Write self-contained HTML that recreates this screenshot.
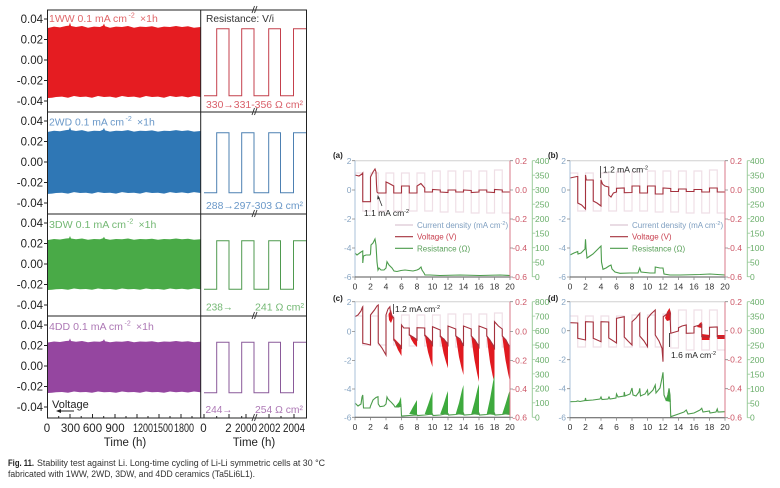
<!DOCTYPE html>
<html><head><meta charset="utf-8">
<style>
html,body{margin:0;padding:0;background:#fff;}
svg{display:block;}
text{font-family:"Liberation Sans","DejaVu Sans",sans-serif;}
</style></head><body>
<svg width="780" height="488" viewBox="0 0 780 488" xmlns="http://www.w3.org/2000/svg">
<rect width="780" height="488" fill="#fff"/>
<defs>
<path id="band" d="M48,-0.97 L54,-1.01 L60,-0.99 L66,-1.03 L69,-1.04 L70,-1.13 L71,-1.03 L76,-1.0 L82,-1.03 L88,-0.98 L94,-1.01 L100,-1.0 L103,-1.04 L104,-1.1 L105,-1.02 L110,-0.98 L116,-1.01 L122,-1.0 L128,-1.03 L134,-0.98 L140,-1.01 L146,-1.0 L152,-1.02 L158,-0.98 L164,-1.01 L170,-1.0 L176,-1.03 L182,-1.0 L188,-1.02 L194,-0.98 L200.5,-1.0 L200.5,1.0 L194,0.97 L188,1.01 L182,0.98 L176,1.0 L170,0.97 L164,1.02 L158,0.99 L152,1.0 L146,0.97 L140,1.02 L134,0.99 L128,1.0 L122,0.97 L116,1.02 L110,0.99 L104,1.0 L98,0.97 L92,1.02 L86,0.99 L80,1.0 L74,0.97 L68,1.02 L62,0.99 L56,1.0 L52,1.02 L48,1.03 Z"/>
</defs>

<!-- ========== LEFT BIG CHART ========== -->
<use href="#band" fill="#e51c21" transform="translate(0,62) scale(1,35)"/>
<use href="#band" fill="#2f77b5" transform="translate(0,162) scale(1,31)"/>
<use href="#band" fill="#49aa47" transform="translate(0,264.3) scale(1,25)"/>
<use href="#band" fill="#9546a0" transform="translate(0,367) scale(1,25.3)"/>

<g fill="none" stroke-width="1">
<path stroke="#c4404c" d="M204,95.7 H216.7 V28.7 H229 V95.7 H241.7 V28.7 H254 V95.7 H268.7 V28.7 H280.5 V95.7 H293.5 V28.7 H306"/>
<path stroke="#4d80b2" d="M204,192.7 H216.7 V132.7 H229 V192.7 H241.7 V132.7 H254 V192.7 H268.7 V132.7 H280.5 V192.7 H293.5 V132.7 H306"/>
<path stroke="#4f9a4f" d="M204,289.3 H216.7 V240.7 H229 V289.3 H241.7 V240.7 H254 V289.3 H268.7 V240.7 H280.5 V289.3 H293.5 V240.7 H306"/>
<path stroke="#8a5a9a" d="M204,392.7 H216.7 V342.3 H229 V392.7 H241.7 V342.3 H254 V392.7 H268.7 V342.3 H280.5 V392.7 H293.5 V342.3 H306"/>
</g>

<g stroke="#222" stroke-width="1" fill="none">
<rect x="47.5" y="10" width="259" height="408"/>
<line x1="200.7" y1="10" x2="200.7" y2="418"/>
<line x1="47.5" y1="112" x2="306.5" y2="112"/>
<line x1="47.5" y1="214" x2="306.5" y2="214"/>
<line x1="47.5" y1="316" x2="306.5" y2="316"/>
</g>
<g stroke="#333" stroke-width="0.9">
<line x1="252" y1="13" x2="254.5" y2="6"/><line x1="254.5" y1="13" x2="257" y2="6"/>
<line x1="252" y1="115" x2="254.5" y2="108"/><line x1="254.5" y1="115" x2="257" y2="108"/>
<line x1="252" y1="217" x2="254.5" y2="210"/><line x1="254.5" y1="217" x2="257" y2="210"/>
<line x1="252" y1="319" x2="254.5" y2="312"/><line x1="254.5" y1="319" x2="257" y2="312"/>
<line x1="252" y1="421" x2="254.5" y2="414"/><line x1="254.5" y1="421" x2="257" y2="414"/>
</g>

<g stroke="#222" stroke-width="1">
<line x1="44" y1="19" x2="47.5" y2="19"/><line x1="44" y1="39.5" x2="47.5" y2="39.5"/><line x1="44" y1="60" x2="47.5" y2="60"/><line x1="44" y1="80.5" x2="47.5" y2="80.5"/><line x1="44" y1="101" x2="47.5" y2="101"/>
<line x1="44" y1="121" x2="47.5" y2="121"/><line x1="44" y1="141.5" x2="47.5" y2="141.5"/><line x1="44" y1="162" x2="47.5" y2="162"/><line x1="44" y1="182.5" x2="47.5" y2="182.5"/><line x1="44" y1="203" x2="47.5" y2="203"/>
<line x1="44" y1="223" x2="47.5" y2="223"/><line x1="44" y1="243.5" x2="47.5" y2="243.5"/><line x1="44" y1="264" x2="47.5" y2="264"/><line x1="44" y1="284.5" x2="47.5" y2="284.5"/><line x1="44" y1="305" x2="47.5" y2="305"/>
<line x1="44" y1="325" x2="47.5" y2="325"/><line x1="44" y1="345.5" x2="47.5" y2="345.5"/><line x1="44" y1="366" x2="47.5" y2="366"/><line x1="44" y1="386.5" x2="47.5" y2="386.5"/><line x1="44" y1="407" x2="47.5" y2="407"/>
<line x1="47.5" y1="418" x2="47.5" y2="414"/><line x1="70" y1="418" x2="70" y2="414"/><line x1="92.5" y1="418" x2="92.5" y2="414"/><line x1="115" y1="418" x2="115" y2="414"/><line x1="137" y1="418" x2="137" y2="414"/><line x1="159" y1="418" x2="159" y2="414"/><line x1="181" y1="418" x2="181" y2="414"/>
<line x1="58.7" y1="418" x2="58.7" y2="416"/><line x1="81.2" y1="418" x2="81.2" y2="416"/><line x1="103.7" y1="418" x2="103.7" y2="416"/><line x1="126" y1="418" x2="126" y2="416"/><line x1="148" y1="418" x2="148" y2="416"/><line x1="170" y1="418" x2="170" y2="416"/><line x1="192" y1="418" x2="192" y2="416"/>
<line x1="204" y1="418" x2="204" y2="414"/><line x1="216.7" y1="418" x2="216.7" y2="416"/><line x1="229" y1="418" x2="229" y2="414"/><line x1="241.7" y1="418" x2="241.7" y2="416"/><line x1="246" y1="418" x2="246" y2="414"/><line x1="269" y1="418" x2="269" y2="414"/><line x1="294" y1="418" x2="294" y2="414"/><line x1="281" y1="418" x2="281" y2="416"/>
</g>

<g font-size="11.5" fill="#222" text-anchor="end">
<text x="43" y="23">0.04</text><text x="43" y="43.5">0.02</text><text x="43" y="64">0.00</text><text x="43" y="84.5">-0.02</text><text x="43" y="105">-0.04</text>
<text x="43" y="125">0.04</text><text x="43" y="145.5">0.02</text><text x="43" y="166">0.00</text><text x="43" y="186.5">-0.02</text><text x="43" y="207">-0.04</text>
<text x="43" y="227">0.04</text><text x="43" y="247.5">0.02</text><text x="43" y="268">0.00</text><text x="43" y="288.5">-0.02</text><text x="43" y="309">-0.04</text>
<text x="43" y="329">0.04</text><text x="43" y="349.5">0.02</text><text x="43" y="370">0.00</text><text x="43" y="390.5">-0.02</text><text x="43" y="411">-0.04</text>
</g>
<g font-size="11.5" fill="#222" text-anchor="middle">
<text x="47" y="432">0</text><text x="70.5" y="432">300</text><text x="92.5" y="432">600</text><text x="115" y="432">900</text>
<text x="143" y="432" textLength="20" lengthAdjust="spacingAndGlyphs">1200</text>
<text x="163" y="432" textLength="20" lengthAdjust="spacingAndGlyphs">1500</text>
<text x="184" y="432" textLength="20" lengthAdjust="spacingAndGlyphs">1800</text>
<text x="203.5" y="432">0</text><text x="228.5" y="432">2</text>
<text x="246" y="432" textLength="22" lengthAdjust="spacingAndGlyphs">2000</text>
<text x="269.5" y="432" textLength="22" lengthAdjust="spacingAndGlyphs">2002</text>
<text x="294" y="432" textLength="22" lengthAdjust="spacingAndGlyphs">2004</text>
<text x="125" y="446">Time (h)</text>
<text x="254" y="446">Time (h)</text>
</g>

<g font-size="10.5">
<text x="49" y="22" fill="#e0676a" textLength="78" lengthAdjust="spacingAndGlyphs">1WW 0.1 mA cm</text>
<text x="128.5" y="17.5" font-size="7" fill="#e0676a">-2</text>
<text x="140" y="22" fill="#e0676a">×1h</text>
<text x="49" y="125.5" fill="#6a98c8" textLength="75" lengthAdjust="spacingAndGlyphs">2WD 0.1 mA cm</text>
<text x="125.5" y="121" font-size="7" fill="#6a98c8">-2</text>
<text x="137" y="125.5" fill="#6a98c8">×1h</text>
<text x="49" y="228" fill="#74b874" textLength="77" lengthAdjust="spacingAndGlyphs">3DW 0.1 mA cm</text>
<text x="127" y="223.5" font-size="7" fill="#74b874">-2</text>
<text x="138.5" y="228" fill="#74b874">×1h</text>
<text x="49" y="330" fill="#ad78b5" textLength="74" lengthAdjust="spacingAndGlyphs">4DD 0.1 mA cm</text>
<text x="124.5" y="325.5" font-size="7" fill="#ad78b5">-2</text>
<text x="136" y="330" fill="#ad78b5">×1h</text>

<text x="206" y="22" fill="#333" textLength="68" lengthAdjust="spacingAndGlyphs">Resistance: V/i</text>
<text x="206" y="108" fill="#d9606a" textLength="97" lengthAdjust="spacingAndGlyphs">330→331-356 Ω cm²</text>
<text x="206" y="209" fill="#6a98c8" textLength="97" lengthAdjust="spacingAndGlyphs">288→297-303 Ω cm²</text>
<text x="206" y="310.5" fill="#74b874" textLength="27" lengthAdjust="spacingAndGlyphs">238→</text>
<text x="255" y="310.5" fill="#74b874" textLength="49" lengthAdjust="spacingAndGlyphs">241 Ω cm²</text>
<text x="205.5" y="413" fill="#ad78b5" textLength="27" lengthAdjust="spacingAndGlyphs">244→</text>
<text x="255" y="413" fill="#ad78b5" textLength="48" lengthAdjust="spacingAndGlyphs">254 Ω cm²</text>
<text x="52" y="408" fill="#222" font-size="11">Voltage</text>
</g>
<g stroke="#222" stroke-width="1" fill="#222">
<line x1="60" y1="411" x2="74" y2="411"/>
<path d="M56,411 L61,409 L61,413 Z" stroke="none"/>
</g>

<text x="8" y="466" font-family="Liberation Serif, serif" font-size="9" font-weight="bold" fill="#222" textLength="26" lengthAdjust="spacingAndGlyphs">Fig. 11.</text>
<text x="37" y="466" font-family="Liberation Serif, serif" font-size="9" fill="#333" textLength="288" lengthAdjust="spacingAndGlyphs">Stability test against Li. Long-time cycling of Li-Li symmetric cells at 30 °C</text>
<text x="8" y="477" font-family="Liberation Serif, serif" font-size="9" fill="#333" textLength="247" lengthAdjust="spacingAndGlyphs">fabricated with 1WW, 2WD, 3DW, and 4DD ceramics (Ta5Li6L1).</text>

<!-- ========== (a) ========== -->
<text x="333" y="158" font-size="8" font-weight="bold" fill="#222">(a)</text>
<path fill="none" stroke="#efdfe6" stroke-width="1.2" d="M355,173 H362.75 V211 H370.5 V173 H378.25 V211 H386 V173 H393.75 V211 H401.5 V173 H409.25 V211 H417 V173 H424.75 V211 H432.5 V171 H440.25 V212 H448 V171 H455.75 V212 H463.5 V171 H471.25 V213 H479 V171 H486.75 V213 H494.5 V170 H502.25 V213 H510"/>
<polyline fill="none" stroke="#a5323e" stroke-width="1.1" points="355,175 359,176 362,174 362.75,173 362.75,201.7 370.5,201.7 370.5,177 373,172 375,169 376,172 376.5,185 377,192 378,193 382,193 386,193 386,182 388.3,183 393.75,186 393.75,193 401.5,193 401.5,186 409.25,186 409.25,193 417,193 417,186 420.9,183.5 424.75,188 424.75,192 432.5,192 432.5,189.5 440.25,190 440.25,192 448,192.5 448,190 455.75,190 455.75,192 463.5,192 463.5,190 471.25,190.5 471.25,192.5 479,192 479,190 486.75,190 486.75,192 494.5,192.5 494.5,189.5 502.25,190 502.25,192 510,192"/>
<polyline fill="none" stroke="#4c9c4c" stroke-width="1.1" points="355,253 357,255 361,252 362.75,251 362.75,263 363.5,256 366,255 370,255 370.5,254 371,245 373,243 375,239 376,245 377,262 378,270 379,268 381,270 384,270 386,268 387,261.7 389,265 392,268 394,271 397,271.5 401,270.5 405,270 409,270.5 413,271 417,270 419,269 421,267 422,270 424,273 425,275 430,275 440,275.5 460,275 480,275.5 500,275 510,275.5"/>
<g stroke-width="1" fill="none">
<line x1="355" y1="160.7" x2="510" y2="160.7" stroke="#d0d0d0"/>
<line x1="355" y1="160.7" x2="355" y2="277" stroke="#a8c0d8"/>
<line x1="355" y1="277" x2="510" y2="277" stroke="#555"/>
<line x1="510" y1="160.7" x2="510" y2="277" stroke="#d87a88"/>
<line x1="532.3" y1="160.7" x2="532.3" y2="277" stroke="#9ccc9c"/>
</g>
<g font-size="8.5" fill="#86a4c2" text-anchor="end">
<text x="351.5" y="164">2</text><text x="351.5" y="193">0</text><text x="351.5" y="222">-2</text><text x="351.5" y="251">-4</text><text x="351.5" y="280">-6</text>
</g>
<g font-size="8.5" fill="#cc5565" text-anchor="end">
<text x="527" y="164">0.2</text><text x="527" y="193">0.0</text><text x="527" y="222">-0.2</text><text x="527" y="251">-0.4</text><text x="527" y="280">-0.6</text>
</g>
<g font-size="8.5" fill="#6aae6a">
<text x="535" y="164">400</text><text x="535" y="178.5">350</text><text x="535" y="193">300</text><text x="535" y="207.5">250</text><text x="535" y="222">200</text><text x="535" y="236.5">150</text><text x="535" y="251">100</text><text x="535" y="265.5">50</text><text x="535" y="280">0</text>
</g>
<g font-size="8.5" fill="#333" text-anchor="middle">
<text x="355" y="289.5">0</text><text x="370.5" y="289.5">2</text><text x="386" y="289.5">4</text><text x="401.5" y="289.5">6</text><text x="417" y="289.5">8</text><text x="432.5" y="289.5">10</text><text x="448" y="289.5">12</text><text x="463.5" y="289.5">14</text><text x="479" y="289.5">16</text><text x="494.5" y="289.5">18</text><text x="510" y="289.5">20</text>
</g>
<text x="364" y="216" font-size="8.5" fill="#222">1.1 mA cm<tspan dy="-3" font-size="5.5">-2</tspan></text>
<line x1="382" y1="206" x2="378.5" y2="197" stroke="#333" stroke-width="0.8"/>
<path d="M377.7,195 L377.2,199.5 L380,198.5 Z" fill="#333"/>
<line x1="395" y1="225" x2="413" y2="225" stroke="#dcc8d4" stroke-width="1.2"/>
<line x1="395" y1="236.7" x2="413" y2="236.7" stroke="#a5323e" stroke-width="1.2"/>
<line x1="395" y1="248.3" x2="413" y2="248.3" stroke="#4c9c4c" stroke-width="1.2"/>
<text x="417" y="228" font-size="8" fill="#7f9fc0">Current density (mA cm<tspan dy="-3" font-size="5.5">-2</tspan><tspan dy="3">)</tspan></text>
<text x="417" y="239.7" font-size="8" fill="#c84050">Voltage (V)</text>
<text x="417" y="251.3" font-size="8" fill="#5aa05a">Resistance (Ω)</text>

<!-- ========== (b) ========== -->
<text x="548" y="158" font-size="8" font-weight="bold" fill="#222">(b)</text>
<path fill="none" stroke="#efdfe6" stroke-width="1.2" d="M570,173 H577.75 V211 H585.5 V173 H593.25 V211 H601 V173 H608.75 V211 H616.5 V172 H624.25 V211 H632 V172 H639.75 V211 H647.5 V171 H655.25 V212 H663 V171 H670.75 V212 H678.5 V171 H686.25 V213 H694 V171 H701.75 V213 H709.5 V170 H717.25 V213 H725"/>
<polyline fill="none" stroke="#a5323e" stroke-width="1.1" points="570,178 577,176.5 577.75,176.5 577.75,203 581.6,205 585.5,209 585.5,175 586.3,180 593.25,180 593.25,201 597,203 601,206 601,180 602.5,184 604.9,186 608.75,187 608.75,195 611,197 613.4,193 616.5,192 616.5,188.3 624.25,188 624.25,192.7 632,192.5 632,186 639.75,186 639.75,193 647.5,193 647.5,186 655.25,186 655.25,194 663,194 663,188 670.75,188.5 670.75,191.5 678.5,191.5 678.5,189 686.25,189 686.25,191.5 694,191.5 694,189.5 701.75,189.5 701.75,192 709.5,192 709.5,188 717.25,188 717.25,192 725,192"/>
<polyline fill="none" stroke="#4c9c4c" stroke-width="1.1" points="570,255 574,253 577.75,251.5 578,254 581,253 585,249 585.5,239.3 586,248 587,258 590,256 593,254 597,250 600,247 601,246 601.5,262 603,269.3 606,268 609,266 611,265 612,269 615,272 620,273.3 630,273 638,273 639.75,268 641,272 650,273 655,273 655.25,267 660,268 663,268 664,274 670,275 680,275 700,274.5 710,274 725,275"/>
<g stroke-width="1" fill="none">
<line x1="570" y1="160.7" x2="725" y2="160.7" stroke="#d0d0d0"/>
<line x1="570" y1="160.7" x2="570" y2="277" stroke="#a8c0d8"/>
<line x1="570" y1="277" x2="725" y2="277" stroke="#555"/>
<line x1="725" y1="160.7" x2="725" y2="277" stroke="#d87a88"/>
<line x1="747.3" y1="160.7" x2="747.3" y2="277" stroke="#9ccc9c"/>
</g>
<g font-size="8.5" fill="#86a4c2" text-anchor="end">
<text x="566" y="164">2</text><text x="566" y="193">0</text><text x="566" y="222">-2</text><text x="566" y="251">-4</text><text x="566" y="280">-6</text>
</g>
<g font-size="8.5" fill="#cc5565" text-anchor="end">
<text x="742" y="164">0.2</text><text x="742" y="193">0.0</text><text x="742" y="222">-0.2</text><text x="742" y="251">-0.4</text><text x="742" y="280">-0.6</text>
</g>
<g font-size="8.5" fill="#6aae6a">
<text x="750" y="164">400</text><text x="750" y="178.5">350</text><text x="750" y="193">300</text><text x="750" y="207.5">250</text><text x="750" y="222">200</text><text x="750" y="236.5">150</text><text x="750" y="251">100</text><text x="750" y="265.5">50</text><text x="750" y="280">0</text>
</g>
<g font-size="8.5" fill="#333" text-anchor="middle">
<text x="570" y="289.5">0</text><text x="585.5" y="289.5">2</text><text x="601" y="289.5">4</text><text x="616.5" y="289.5">6</text><text x="632" y="289.5">8</text><text x="647.5" y="289.5">10</text><text x="663" y="289.5">12</text><text x="678.5" y="289.5">14</text><text x="694" y="289.5">16</text><text x="709.5" y="289.5">18</text><text x="725" y="289.5">20</text>
</g>
<text x="603" y="172.5" font-size="8.5" fill="#222">1.2 mA cm<tspan dy="-3" font-size="5.5">-2</tspan></text>
<line x1="600.5" y1="166" x2="600.5" y2="178" stroke="#333" stroke-width="0.8"/>
<line x1="610" y1="225" x2="628" y2="225" stroke="#dcc8d4" stroke-width="1.2"/>
<line x1="610" y1="236.7" x2="628" y2="236.7" stroke="#a5323e" stroke-width="1.2"/>
<line x1="610" y1="248.3" x2="628" y2="248.3" stroke="#4c9c4c" stroke-width="1.2"/>
<text x="632" y="228" font-size="8" fill="#7f9fc0">Current density (mA cm<tspan dy="-3" font-size="5.5">-2</tspan><tspan dy="3">)</tspan></text>
<text x="632" y="239.7" font-size="8" fill="#c84050">Voltage (V)</text>
<text x="632" y="251.3" font-size="8" fill="#5aa05a">Resistance (Ω)</text>

<!-- ========== (c) ========== -->
<text x="333" y="301" font-size="8" font-weight="bold" fill="#222">(c)</text>
<path fill="none" stroke="#efdfe6" stroke-width="1.2" d="M355,316 H362.75 V345 H370.5 V316 H378.25 V345 H386 V316 H393.75 V345 H401.5 V315 H409.25 V346 H417 V315 H424.75 V346 H432.5 V315 H440.25 V346 H448 V314 H455.75 V347 H463.5 V314 H471.25 V347 H479 V314 H486.75 V347 H494.5 V313 H502.25 V347 H510"/>
<g fill="#e01a20">
<polygon points="388.5,314 391,310 393,318 391,323 389,320"/>
<polygon points="393.75,338 401.5,346 401.5,356 398,350 395,343"/>
<polygon points="409.25,334 417,339 417,347 414,344 411,339"/>
<polygon points="424.75,334 432.5,342 432.5,367 430.5,361 428,352 426,342"/>
<polygon points="440.25,335 448,343 448,368.3 446,362 443.5,353 441.5,343"/>
<polygon points="455.75,335 463.5,344 463.5,375 461.5,368 459,357 457,344"/>
<polygon points="471.25,335 479,345 479,381.7 477,373 474.5,360 472.5,346"/>
<polygon points="486.75,335 494.5,346 494.5,383.3 492.5,375 490,362 488,347"/>
<polygon points="502.25,335 510,346 510,381.7 508,373 505.5,360 503.5,346"/>
</g>
<polyline fill="none" stroke="#a5323e" stroke-width="1.1" points="355,316.7 358,315 361,311 362.5,307 362.75,306.7 362.75,343.3 366.6,344 370.5,345 370.5,315 374.4,310 377,306 378.25,305 378.25,343 382,348 386,355 386,315 388,309 389.9,306.7 390.6,314 393.75,318 393.75,340 397.6,344 401.5,348 401.5,325 403.8,328 409.25,328 409.25,335 413,337 417,340 417,327.7 424.75,328 424.75,335.7 428,338 432.5,345 432.5,326.7 440.25,330 440.25,336.7 444,339 448,345 448,326 455.75,329 455.75,336 460,339 463.5,346 463.5,326 471.25,329 471.25,336 475,340 479,347 479,326 486.75,329 486.75,336 490,340 494.5,348 494.5,321.7 498.4,326 502.25,329 502.25,336 506,340 510,348"/>
<g fill="#3eaa3e">
<polygon points="395,407 399,402 401,396.7 401.5,407"/>
<polygon points="409.25,414 413,407 417,400 417,415"/>
<polygon points="424.75,414 428,405 431,396 432.5,391.7 432.5,415"/>
<polygon points="440.25,414 443.5,405 446.5,395 448,391 448,415"/>
<polygon points="455.75,414 459,403 462,390 463.5,385 463.5,415"/>
<polygon points="471.25,414 474.5,402 477.5,389 479,384 479,415"/>
<polygon points="486.75,414 490,399 493,382 494.5,375 494.5,415"/>
<polygon points="502.25,414 505.5,404 508.5,394 510,390 510,415"/>
</g>
<polyline fill="none" stroke="#4c9c4c" stroke-width="1.1" points="355,403 358,406 361,404 362,397 362.75,395 363.5,408 366,408 370,408 370.5,406 373,400 376,397.5 378,396.7 378.25,404 380,406.7 384,406 386,404 387,397 388,399 389.9,401 391,402 393.75,405 395,407 399,407 401,405 401.5,416 409.25,415.5 417,415 417.5,415.5 424.75,415 432.5,414 433,415.5 440.25,415 448,413.5 448.5,415 455.75,414.5 463.5,413 464,415 471.25,414.5 479,413 479.5,415 486.75,414.5 494.5,413 495,415 502.25,414.5 510,413"/>
<g stroke-width="1" fill="none">
<line x1="355" y1="301.7" x2="510" y2="301.7" stroke="#d0d0d0"/>
<line x1="355" y1="301.7" x2="355" y2="417.3" stroke="#a8c0d8"/>
<line x1="355" y1="417.3" x2="510" y2="417.3" stroke="#555"/>
<line x1="510" y1="301.7" x2="510" y2="417.3" stroke="#d87a88"/>
<line x1="532.3" y1="301.7" x2="532.3" y2="417.3" stroke="#9ccc9c"/>
</g>
<g font-size="8.5" fill="#86a4c2" text-anchor="end">
<text x="351.5" y="305">2</text><text x="351.5" y="334.5">0</text><text x="351.5" y="363.4">-2</text><text x="351.5" y="392">-4</text><text x="351.5" y="420.3">-6</text>
</g>
<g font-size="8.5" fill="#cc5565" text-anchor="end">
<text x="527" y="305">0.2</text><text x="527" y="334.5">0.0</text><text x="527" y="363.4">-0.2</text><text x="527" y="392">-0.4</text><text x="527" y="420.3">-0.6</text>
</g>
<g font-size="8.5" fill="#6aae6a">
<text x="535" y="305">800</text><text x="535" y="319.5">700</text><text x="535" y="334">600</text><text x="535" y="348.4">500</text><text x="535" y="362.8">400</text><text x="535" y="377.3">300</text><text x="535" y="391.7">200</text><text x="535" y="406.2">100</text><text x="535" y="420.3">0</text>
</g>
<g font-size="8.5" fill="#333" text-anchor="middle">
<text x="355" y="430">0</text><text x="370.5" y="430">2</text><text x="386" y="430">4</text><text x="401.5" y="430">6</text><text x="417" y="430">8</text><text x="432.5" y="430">10</text><text x="448" y="430">12</text><text x="463.5" y="430">14</text><text x="479" y="430">16</text><text x="494.5" y="430">18</text><text x="510" y="430">20</text>
</g>
<text x="395" y="312" font-size="8.5" fill="#222">1.2 mA cm<tspan dy="-3" font-size="5.5">-2</tspan></text>
<line x1="393.5" y1="304" x2="393.5" y2="314" stroke="#333" stroke-width="0.8"/>

<!-- ========== (d) ========== -->
<text x="548" y="301" font-size="8" font-weight="bold" fill="#222">(d)</text>
<path fill="none" stroke="#efdfe6" stroke-width="1.2" d="M570,316 H577.75 V347 H585.5 V316 H593.25 V347 H601 V316 H608.75 V347 H616.5 V316 H624.25 V347 H632 V315 H639.75 V347 H647.5 V315 H655.25 V347 H663 V314 H670.75 V348 H678.5 V310 H686.25 V350 H694 V310 H701.75 V350 H709.5 V310 H717.25 V350 H725"/>
<g fill="#e01a20">
<polygon points="665,318 667,312 669.5,308 671,313 670.5,320 667,321"/>
<polygon points="697,327 700,323 701.75,322 701.75,328"/>
<polygon points="701.75,334 709.5,335 709.5,340 701.75,340"/>
<polygon points="717.25,335 725,335 725,339 717.25,339"/>
</g>
<polyline fill="none" stroke="#a5323e" stroke-width="1.1" points="570,322.7 577.75,323 577.75,338.3 585.5,340 585.5,321.7 593.25,322 593.25,338.3 601,341.7 601,321.7 608.75,322 608.75,338 616.5,343 616.5,318.3 624.25,316.7 624.25,337 628,341 632,345 632,321.7 636,318 639.75,313.3 639.75,336 644,341 647.5,346.7 647.5,318.3 651,314 655.25,310 655.25,335 659,341 662,348.3 663,361.7 663.3,316.7 667,314 670,312 670.75,333.3 675,332 678.5,331 678.5,327.7 682,326 686.25,325 686.25,333.3 694,333 694,326.7 698,325.5 701.75,324.3 701.75,336.7 709.5,337 709.5,327.3 717.25,327 717.25,336.7 725,337"/>
<polygon fill="#3eaa3e" points="666,401 668,392 669.5,388.3 670.5,398 670.75,402"/>
<polyline fill="none" stroke="#4c9c4c" stroke-width="1.1" points="570,401.7 576,401.5 577.75,401 580,401.5 585,400.5 585.5,398 586,400.5 593,400 600,399 601,397 602,399.5 608,399 609,397 610,399 616,398 616.5,394 618,397 624,396 624.25,392 625,396 630,394 632,388 633,395 636,396 639,392 639.75,388.3 640.5,396 645,394 647.5,390 648,395 653,390 655.25,385 656,393 660,388 662,378 663,372.3 664,395 666,400 668,395 669,388.3 670,395 670.75,416.7 678.5,414 684,412 686.25,410 688,414 694,413 700,410 701.75,408.3 703,412 709.5,411 710,413 716,412 717.25,409 718,412 725,411.7"/>
<g stroke-width="1" fill="none">
<line x1="570" y1="301.7" x2="725" y2="301.7" stroke="#d0d0d0"/>
<line x1="570" y1="301.7" x2="570" y2="417.7" stroke="#a8c0d8"/>
<line x1="570" y1="417.7" x2="725" y2="417.7" stroke="#555"/>
<line x1="725" y1="301.7" x2="725" y2="417.7" stroke="#d87a88"/>
<line x1="747.3" y1="301.7" x2="747.3" y2="417.7" stroke="#9ccc9c"/>
</g>
<g font-size="8.5" fill="#86a4c2" text-anchor="end">
<text x="566" y="305">2</text><text x="566" y="333.7">0</text><text x="566" y="362.7">-2</text><text x="566" y="391.7">-4</text><text x="566" y="420.7">-6</text>
</g>
<g font-size="8.5" fill="#cc5565" text-anchor="end">
<text x="742" y="305">0.2</text><text x="742" y="333.7">0.0</text><text x="742" y="362.7">-0.2</text><text x="742" y="391.7">-0.4</text><text x="742" y="420.7">-0.6</text>
</g>
<g font-size="8.5" fill="#6aae6a">
<text x="750" y="305">400</text><text x="750" y="319.5">350</text><text x="750" y="334">300</text><text x="750" y="348.5">250</text><text x="750" y="363">200</text><text x="750" y="377.5">150</text><text x="750" y="392">100</text><text x="750" y="406.5">50</text><text x="750" y="420.7">0</text>
</g>
<g font-size="8.5" fill="#333" text-anchor="middle">
<text x="570" y="430">0</text><text x="585.5" y="430">2</text><text x="601" y="430">4</text><text x="616.5" y="430">6</text><text x="632" y="430">8</text><text x="647.5" y="430">10</text><text x="663" y="430">12</text><text x="678.5" y="430">14</text><text x="694" y="430">16</text><text x="709.5" y="430">18</text><text x="725" y="430">20</text>
</g>
<text x="671" y="358" font-size="8.5" fill="#222">1.6 mA cm<tspan dy="-3" font-size="5.5">-2</tspan></text>
<line x1="669.5" y1="333" x2="669.5" y2="347" stroke="#333" stroke-width="0.9"/>

<g stroke="#888" stroke-width="0.8">
<path d="M352,160.7h3M352,190h3M352,219h3M352,248h3M352,277h3 M567,160.7h3M567,190h3M567,219h3M567,248h3M567,277h3 M352,301.7h3M352,331.5h3M352,360.4h3M352,389h3M352,417.3h3 M567,301.7h3M567,330.7h3M567,359.7h3M567,388.7h3M567,417.7h3"/>
<path d="M510,160.7h3M510,190h3M510,219h3M510,248h3M510,277h3 M725,160.7h3M725,190h3M725,219h3M725,248h3M725,277h3 M510,301.7h3M510,331.5h3M510,360.4h3M510,389h3M510,417.3h3 M725,301.7h3M725,330.7h3M725,359.7h3M725,388.7h3M725,417.7h3"/>
<path d="M355,277v3M370.5,277v3M386,277v3M401.5,277v3M417,277v3M432.5,277v3M448,277v3M463.5,277v3M479,277v3M494.5,277v3M510,277v3 M570,277v3M585.5,277v3M601,277v3M616.5,277v3M632,277v3M647.5,277v3M663,277v3M678.5,277v3M694,277v3M709.5,277v3M725,277v3"/>
<path d="M355,417.3v3M370.5,417.3v3M386,417.3v3M401.5,417.3v3M417,417.3v3M432.5,417.3v3M448,417.3v3M463.5,417.3v3M479,417.3v3M494.5,417.3v3M510,417.3v3 M570,417.7v3M585.5,417.7v3M601,417.7v3M616.5,417.7v3M632,417.7v3M647.5,417.7v3M663,417.7v3M678.5,417.7v3M694,417.7v3M709.5,417.7v3M725,417.7v3"/>
</g>
<g stroke="#9ccc9c" stroke-width="0.8">
<path d="M532.3,160.7h3M532.3,175.2h3M532.3,189.7h3M532.3,204.2h3M532.3,218.7h3M532.3,233.2h3M532.3,247.7h3M532.3,262.2h3M532.3,276.7h3 M747.3,160.7h3M747.3,175.2h3M747.3,189.7h3M747.3,204.2h3M747.3,218.7h3M747.3,233.2h3M747.3,247.7h3M747.3,262.2h3M747.3,276.7h3"/>
<path d="M532.3,301.7h3M532.3,316.1h3M532.3,330.6h3M532.3,345h3M532.3,359.5h3M532.3,373.9h3M532.3,388.4h3M532.3,402.8h3M532.3,417.3h3 M747.3,301.7h3M747.3,316.2h3M747.3,330.7h3M747.3,345.2h3M747.3,359.7h3M747.3,374.2h3M747.3,388.7h3M747.3,403.2h3M747.3,417.7h3"/>
</g>
</svg>
</body></html>
